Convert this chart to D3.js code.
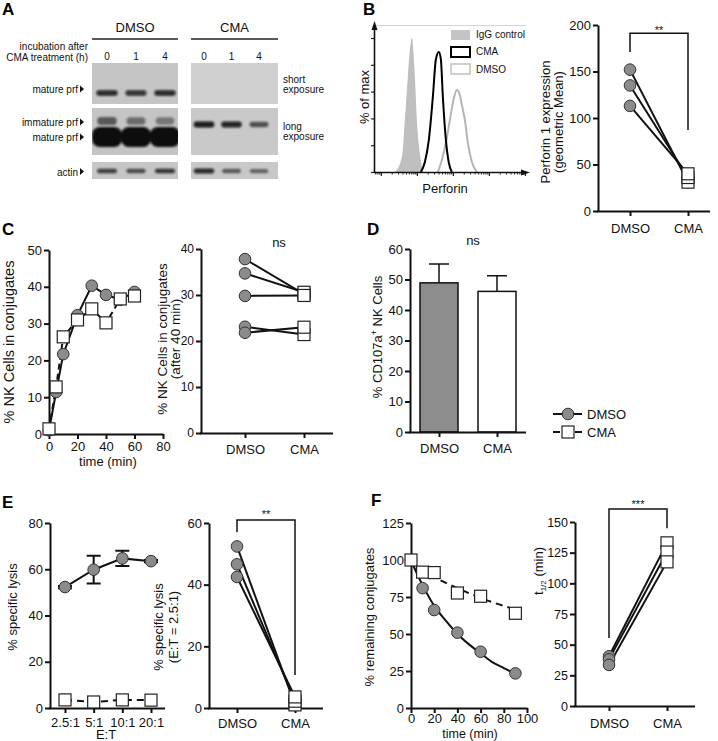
<!DOCTYPE html>
<html><head><meta charset="utf-8">
<script src="https://cdn.jsdelivr.net/npm/d3@7"></script>
<style>body{margin:0;background:#fff}svg{display:block}</style>
</head><body>
<svg id="c" width="718" height="741"></svg>
<script>
// ================= DATA =================
const groups = ["DMSO","CMA"];
// A: western blot band intensities (0..1) per lane (h after CMA treatment)
const blotLanes = ["0","1","4"];
const shortMatureDMSO = [0.85,0.8,0.85];
const shortMatureCMA  = [0,0,0];
const longImmatureDMSO = [0.55,0.45,0.4];
const longMatureDMSO  = [1,1,1];
const longImmatureCMA = [0.92,0.88,0.6];
const actinDMSO = [0.75,0.62,0.8];
const actinCMA  = [0.85,0.55,0.5];
// B: histogram (perforin intensity, % of max)
const histLegend = ["IgG control","CMA","DMSO"];
const iggX = [2.45,3.83,4.64,5.62,7.26,8.8,10,12.1,14.7];
const iggY = [0,11,39,71,100,71,39,14,0];
const cmaHX = [12.9,16.7,21.5,27.8,33.7,40.8,46.4,52.7,63.9,77.4,93.8];
const cmaHY = [0,7.5,24,56,84,89.6,84,56,24,6.7,0];
const dmsoHX = [38.3,49.4,63.9,82.5,106.6,129,156.4,177.8,215.4,261,337,464];
const dmsoHY = [0,9,21.6,38.8,55.2,61.2,57.5,50,38.8,21.6,7.5,0];
// B: perforin geometric mean
const prfDMSO = [152,135,113];
const prfCMA  = [31,36,40];
const prfTicks = [0,50,100,150,200];
// C: conjugates kinetics
const conjTime = [0,5,10,20,30,40,50,60];
const conjDMSO = [1,11.4,21.7,32.3,40.3,37.8,36.5,38.6];
const conjCMA  = [1.4,12.8,26.4,31,34,30.2,36.7,37.5];
const conjTimeTicks = [0,20,40,60,80];
const conjTicks = [0,10,20,30,40,50];
// C: after 40 min
const c40DMSO = [37.8,34.7,29.8,23.1,21.8];
const c40CMA  = [30.2,30.6,29.9,21.4,23.0];
const c40Ticks = [0,10,20,30,40];
// D: CD107a
const cdMean = [48.9,46.1];
const cdErr  = [6.2,5.1];
const cdTicks = [0,10,20,30,40,50,60];
// E: specific lysis
const etRatios = ["2.5:1","5:1","10:1","20:1"];
const lysisDMSO = [52.3,59.8,64.7,63.5];
const lysisDMSOerr = [0.5,6,3.3,0.5];
const lysisCMA = [3.5,2.6,3.5,3.4];
const lysisTicks = [0,20,40,60,80];
const lysis25DMSO = [52.4,46.6,42.5];
const lysis25CMA  = [1,2.2,3.6];
const lysis25Ticks = [0,20,40,60];
// F: remaining conjugates
const detachTime = [0,10,20,40,60,90];
const remainDMSO = [100,81,66.2,50.9,38,23.4];
const remainCMA  = [100,91.8,91.5,77.7,75.5,64];
const fitTime = [0,5,10,20,30,40,50,60,70,80,90];
const fitDMSO = [100,91,83,69,59,50,43,37,31,27,23];
const fitCMA  = [100,96.5,93.5,88.5,84.5,81,77.5,74.5,71.5,69,66.5];
const detachTimeTicks = [0,20,40,60,80,100];
const remainTicks = [0,25,50,75,100,125];
const halfDMSO = [40.5,38,33.5];
const halfCMA  = [133,125.5,117.5];
const halfTicks = [0,25,50,75,100,125,150];

// ================= HELPERS =================
const svg = d3.select("#c");
const F = "'Liberation Sans', Arial, Helvetica, sans-serif";
const INK = "#111";
const GRAY = "#8b8b8b";

function label(x,y,s,size=13,anchor="start",weight="normal",fill=INK){
  return svg.append("text").attr("x",x).attr("y",y).attr("font-family",F).attr("font-size",size)
    .attr("text-anchor",anchor).attr("font-weight",weight).attr("fill",fill).text(s);
}
function vlabel(xb,yc,s,size=13){
  return svg.append("text").attr("transform",`translate(${xb},${yc}) rotate(-90)`).attr("text-anchor","middle")
    .attr("font-family",F).attr("font-size",size).attr("fill",INK).text(s);
}
function styleAxis(g,size=13){
  g.select(".domain").attr("stroke",INK).attr("stroke-width",2);
  g.selectAll(".tick line").attr("stroke",INK).attr("stroke-width",2);
  g.selectAll(".tick text").attr("font-family",F).attr("font-size",size).attr("fill",INK);
}
function yAxis(y,x,ticks,size=13){
  const g = svg.append("g").attr("transform",`translate(${x},0)`)
    .call(d3.axisLeft(y).tickValues(ticks).tickSize(5).tickSizeOuter(0).tickPadding(2));
  styleAxis(g,size); return g;
}
function xAxis(x,yPos,ticks,pad,keepDomain){
  const a = d3.axisBottom(x).tickSize(5).tickSizeOuter(0).tickPadding(pad);
  if(ticks) a.tickValues(ticks);
  const g = svg.append("g").attr("transform",`translate(0,${yPos})`).call(a);
  styleAxis(g); if(!keepDomain) g.select(".domain").remove(); return g;
}
function baseLine(x1,x2,y){
  svg.append("line").attr("x1",x1).attr("x2",x2).attr("y1",y+0.5).attr("y2",y+0.5)
    .attr("stroke",INK).attr("stroke-width",2);
}
function circles(data,cx,cy,r=5.8){
  svg.append("g").selectAll("circle").data(data).join("circle")
    .attr("cx",cx).attr("cy",cy).attr("r",r).attr("fill",GRAY).attr("stroke","#333").attr("stroke-width",1);
}
function squares(data,cx,cy,s=12){
  svg.append("g").selectAll("rect").data(data).join("rect")
    .attr("x",(d,i)=>cx(d,i)-s/2).attr("y",(d,i)=>cy(d,i)-s/2).attr("width",s).attr("height",s)
    .attr("fill","#fff").attr("stroke","#222").attr("stroke-width",1.2);
}
function bracket(x,y,vL,vTop,vR,stars,starY){
  const xa=x("DMSO"), xb=x("CMA");
  svg.append("path").attr("d",`M${xa},${y(vL)}V${y(vTop)}H${xb}V${y(vR)}`)
    .attr("fill","none").attr("stroke",INK).attr("stroke-width",1.5);
  label((xa+xb)/2,starY,stars,11,"middle");
}
function paired(o){
  const y = d3.scaleLinear().domain([0,o.max]).range([o.yBot,o.yTop]);
  const x = d3.scalePoint().domain(groups).range(o.cx);
  yAxis(y,o.ax,o.ticks,o.tsize||13);
  baseLine(o.ax-1,o.x1,o.yBot);
  xAxis(x,o.yBot,null,o.pad,false);
  svg.append("g").selectAll("line").data(o.dmso).join("line")
    .attr("x1",x("DMSO")).attr("y1",d=>y(d)).attr("x2",x("CMA")).attr("y2",(d,i)=>y(o.cma[i]))
    .attr("stroke",INK).attr("stroke-width",2);
  circles(o.dmso,()=>x("DMSO"),d=>y(d));
  squares(o.cma,()=>x("CMA"),d=>y(d));
  return {x,y};
}

// ================= PANEL LETTERS =================
[["A",2,15],["B",363,15],["C",2,235],["D",367,235],["E",2,508],["F",371,506]]
  .forEach(([s,x,y])=>label(x,y,s,17,"start","bold","#000"));

// ================= PANEL A: blot =================
const defs = svg.append("defs");
defs.append("filter").attr("id","blur").attr("x","-30%").attr("y","-60%").attr("width","160%").attr("height","220%")
  .append("feGaussianBlur").attr("stdDeviation",1.1);
const blotBox = {DMSO:[92,178], CMA:[191,278]};
const laneX = {
  DMSO: d3.scalePoint().domain(blotLanes).range([107,165]),
  CMA:  d3.scalePoint().domain(blotLanes).range([204,259])
};
const blotRows = [{y0:63,y1:104,bg:{DMSO:"#c5c5c5",CMA:"#d0d0d0"}},
                  {y0:108,y1:155,bg:{DMSO:"#c4c4c4",CMA:"#c9c9c9"}},
                  {y0:162,y1:179,bg:{DMSO:"#c6c6c6",CMA:"#c8c8c8"}}];
blotRows.forEach((r,ri)=>groups.forEach(g=>{
  const [x0,x1]=blotBox[g];
  defs.append("clipPath").attr("id",`cp${ri}${g}`).append("rect").attr("x",x0).attr("y",r.y0).attr("width",x1-x0).attr("height",r.y1-r.y0);
  svg.append("rect").attr("x",x0).attr("y",r.y0).attr("width",x1-x0).attr("height",r.y1-r.y0).attr("fill",r.bg[g]);
}));
const bandSpecs = [
  {g:"DMSO",row:0,cy:93,w:22,h:6,vals:shortMatureDMSO},
  {g:"CMA",row:0,cy:93,w:22,h:6,vals:shortMatureCMA},
  {g:"DMSO",row:1,cy:121,w:22,h:9,vals:longImmatureDMSO},
  {g:"DMSO",row:1,cy:137,w:30,h:20,vals:longMatureDMSO},
  {g:"CMA",row:1,cy:124.5,w:21,h:6,vals:longImmatureCMA},
  {g:"DMSO",row:2,cy:171,w:21,h:5,vals:actinDMSO},
  {g:"CMA",row:2,cy:171,w:21,h:5,vals:actinCMA}
];
bandSpecs.forEach(b=>{
  svg.append("g").attr("clip-path",`url(#cp${b.row}${b.g})`).append("g").attr("filter","url(#blur)")
    .selectAll("rect").data(b.vals).join("rect")
    .attr("x",(v,i)=>laneX[b.g](blotLanes[i])-b.w*(0.75+0.25*v)/2)
    .attr("width",v=>b.w*(0.75+0.25*v))
    .attr("y",v=>b.cy-b.h*(0.7+0.3*v)/2).attr("height",v=>b.h*(0.7+0.3*v))
    .attr("rx",b.h/2.5).attr("fill","#0a0a0a").attr("fill-opacity",v=>v);
});
groups.forEach(g=>{
  const [x0,x1]=blotBox[g];
  label((x0+x1)/2,32,g,13,"middle");
  svg.append("line").attr("x1",x0).attr("x2",x1).attr("y1",39).attr("y2",39).attr("stroke","#222").attr("stroke-width",1.5);
  blotLanes.forEach(l=>label(laneX[g](l),59.5,l,10,"middle"));
});
label(88,49.5,"incubation after",10,"end");
label(88,60.5,"CMA treatment (h)",10,"end");
[["mature prf",93],["immature prf",126],["mature prf",141],["actin",175.5]].forEach(([s,y])=>{
  label(78,y,s,10,"end");
  svg.append("path").attr("d",`M80,${y-7.5}L84,${y-4}L80,${y-0.5}Z`).attr("fill","#111");
});
label(283,82.5,"short",10); label(283,92.5,"exposure",10);
label(283,129.5,"long",10); label(283,140,"exposure",10);

// ================= PANEL B: histogram =================
{
  const x = d3.scaleLog().domain([Math.pow(10,-0.19),Math.pow(10,4.03)]).range([374,526]);
  const y = d3.scaleLinear().domain([0,100]).range([172,38]);
  svg.append("line").attr("x1",374).attr("x2",526).attr("y1",25.5).attr("y2",25.5).attr("stroke","#d4d4d4").attr("stroke-width",1);
  const area = d3.area().x(d=>x(d[0])).y0(y(0)).y1(d=>y(d[1])).curve(d3.curveMonotoneX);
  const line = d3.line().x(d=>x(d[0])).y(d=>y(d[1])).curve(d3.curveMonotoneX);
  svg.append("path").datum(d3.zip(iggX,iggY)).attr("d",area).attr("fill","#bfbfbf");
  svg.append("path").datum(d3.zip(dmsoHX,dmsoHY)).attr("d",line).attr("fill","none").attr("stroke","#b5b5b5").attr("stroke-width",2);
  svg.append("path").datum(d3.zip(cmaHX,cmaHY)).attr("d",line).attr("fill","none").attr("stroke","#000").attr("stroke-width",2);
  const gm = svg.append("g").attr("transform","translate(0,172)")
    .call(d3.axisBottom(x).tickValues(x.ticks()).tickSize(2.5).tickFormat(""));
  gm.select(".domain").remove(); gm.selectAll("line").attr("stroke","#222").attr("stroke-width",1);
  const gM = svg.append("g").attr("transform","translate(0,172)")
    .call(d3.axisBottom(x).tickValues([1,10,100,1000,10000]).tickSize(4).tickFormat(""));
  gM.select(".domain").remove(); gM.selectAll("line").attr("stroke","#222").attr("stroke-width",1.2);
  const gy = svg.append("g").attr("transform","translate(374,0)")
    .call(d3.axisLeft(y).tickValues([0,20,40,60,80,100]).tickSize(3).tickFormat(""));
  gy.select(".domain").remove(); gy.selectAll("line").attr("stroke","#222").attr("stroke-width",1.2);
  svg.append("line").attr("x1",374.5).attr("x2",374.5).attr("y1",28).attr("y2",173).attr("stroke","#111").attr("stroke-width",1.6);
  svg.append("line").attr("x1",374).attr("x2",523).attr("y1",172.5).attr("y2",172.5).attr("stroke","#111").attr("stroke-width",1.6);
  svg.append("path").attr("d","M374.5,21L371.5,30L377.5,30Z").attr("fill","#111");
  svg.append("path").attr("d","M530,172.5L521,169.5L521,175.5Z").attr("fill","#111");
  vlabel(369,97,"% of max",13);
  label(445,193,"Perforin",13,"middle");
  const lg = [{fill:"#c4c4c4",stroke:"none",sw:0,y:30},{fill:"none",stroke:"#000",sw:2,y:47},{fill:"none",stroke:"#c0c0c0",sw:1.5,y:64}];
  histLegend.forEach((s,i)=>{
    svg.append("rect").attr("x",451).attr("y",lg[i].y).attr("width",19).attr("height",10)
      .attr("fill",lg[i].fill).attr("stroke",lg[i].stroke).attr("stroke-width",lg[i].sw);
    label(476,[37.5,55,72.5][i],s,10);
  });
}
// ================= PANEL B: paired =================
{
  const p = paired({ax:598,x1:710,yTop:25,yBot:211,max:200,ticks:prfTicks,cx:[630,688],dmso:prfDMSO,cma:prfCMA,pad:8});
  bracket(p.x,p.y,171,191,87,"**",34);
  vlabel(550,122,"Perforin 1 expression",13);
  vlabel(563,122,"(geometric Mean)",13);
}
// ================= PANEL C: kinetics =================
{
  const x = d3.scaleLinear().domain([0,80]).range([49,163]);
  const y = d3.scaleLinear().domain([0,50]).range([434,250]);
  yAxis(y,49,conjTicks);
  xAxis(x,434,conjTimeTicks,3,true);
  const ln = d3.line().x((d,i)=>x(conjTime[i])).y(d=>y(d));
  svg.append("path").datum(conjDMSO).attr("d",ln).attr("fill","none").attr("stroke",INK).attr("stroke-width",2);
  svg.append("path").datum(conjCMA).attr("d",ln).attr("fill","none").attr("stroke",INK).attr("stroke-width",2).attr("stroke-dasharray","6,4");
  circles(conjDMSO,(d,i)=>x(conjTime[i]),d=>y(d));
  squares(conjCMA,(d,i)=>x(conjTime[i]),d=>y(d));
  label(108,466,"time (min)",13,"middle");
  vlabel(14,342,"% NK Cells in conjugates",14.5);
}
{
  paired({ax:201,x1:333,yTop:249,yBot:433,max:40,ticks:c40Ticks,cx:[245,304],dmso:c40DMSO,cma:c40CMA,pad:7,tsize:12});
  label(279,247,"ns",13,"middle");
  vlabel(167,339,"% NK Cells in conjugates",13.5);
  vlabel(180,339,"(after 40 min)",13.5);
}
// ================= PANEL D =================
{
  const y = d3.scaleLinear().domain([0,60]).range([432,249]);
  const x = d3.scalePoint().domain(groups).range([439,497]);
  const bw = 38;
  svg.append("g").selectAll("path").data(cdMean).join("path")
    .attr("d",(d,i)=>`M${x(groups[i])},${y(d)}V${y(d+cdErr[i])}M${x(groups[i])-10},${y(d+cdErr[i])}H${x(groups[i])+10}`)
    .attr("stroke",INK).attr("stroke-width",1.5).attr("fill","none");
  svg.append("g").selectAll("rect").data(cdMean).join("rect")
    .attr("x",(d,i)=>x(groups[i])-bw/2).attr("width",bw).attr("y",d=>y(d)).attr("height",d=>y(0)-y(d))
    .attr("fill",(d,i)=>i===0?"#8c8c8c":"#fff").attr("stroke",INK).attr("stroke-width",1.5);
  yAxis(y,410,cdTicks);
  baseLine(409,526,432);
  xAxis(x,432,null,7,false);
  label(473,245,"ns",13,"middle");
  const t = svg.append("text").attr("transform","translate(382,337) rotate(-90)").attr("text-anchor","middle")
    .attr("font-family",F).attr("font-size",13).attr("fill",INK);
  t.append("tspan").text("% CD107a");
  t.append("tspan").attr("font-size",9).attr("dy",-5).text("+");
  t.append("tspan").attr("dy",5).text(" NK Cells");
  svg.append("line").attr("x1",553).attr("x2",582).attr("y1",414).attr("y2",414).attr("stroke",INK).attr("stroke-width",2);
  svg.append("circle").attr("cx",568).attr("cy",414).attr("r",5.8).attr("fill",GRAY).attr("stroke","#333");
  svg.append("line").attr("x1",553).attr("x2",582).attr("y1",432).attr("y2",432).attr("stroke",INK).attr("stroke-width",2).attr("stroke-dasharray","7,15");
  svg.append("rect").attr("x",562).attr("y",426).attr("width",12).attr("height",12).attr("fill","#fff").attr("stroke","#222").attr("stroke-width",1.2);
  label(587,418.5,"DMSO",13); label(587,436.5,"CMA",13);
}
// ================= PANEL E =================
{
  const x = d3.scalePoint().domain(etRatios).range([65,151]);
  const y = d3.scaleLinear().domain([0,80]).range([708,523]);
  yAxis(y,50,lysisTicks);
  baseLine(49,165,708);
  xAxis(x,708,null,5,false);
  const ln = d3.line().x((d,i)=>x(etRatios[i])).y(d=>y(d));
  svg.append("path").datum(lysisCMA).attr("d",ln).attr("fill","none").attr("stroke",INK).attr("stroke-width",2).attr("stroke-dasharray","7,5");
  svg.append("path").datum(lysisDMSO).attr("d",ln).attr("fill","none").attr("stroke",INK).attr("stroke-width",2);
  svg.append("g").selectAll("path").data(lysisDMSO).join("path")
    .attr("d",(d,i)=>{const cx=x(etRatios[i]);return `M${cx},${y(d-lysisDMSOerr[i])}V${y(d+lysisDMSOerr[i])}M${cx-7},${y(d+lysisDMSOerr[i])}H${cx+7}M${cx-7},${y(d-lysisDMSOerr[i])}H${cx+7}`;})
    .attr("stroke",INK).attr("stroke-width",2).attr("fill","none");
  circles(lysisDMSO,(d,i)=>x(etRatios[i]),d=>y(d));
  squares(lysisCMA,(d,i)=>x(etRatios[i]),d=>y(d));
  label(106,738.5,"E:T",13,"middle");
  vlabel(17,607,"% specific lysis",13);
}
{
  const p = paired({ax:209,x1:323,yTop:523,yBot:708,max:60,ticks:lysis25Ticks,cx:[237,295],dmso:lysis25DMSO,cma:lysis25CMA,pad:6});
  bracket(p.x,p.y,57,61,10.7,"**",518);
  vlabel(163,627,"% specific lysis",13);
  vlabel(178,627,"(E:T = 2.5:1)",13);
}
// ================= PANEL F =================
{
  const x = d3.scaleLinear().domain([0,100]).range([411,527]);
  const y = d3.scaleLinear().domain([0,125]).range([708,523]);
  yAxis(y,411,remainTicks);
  xAxis(x,708,detachTimeTicks,1,true);
  const ln = d3.line().x((d,i)=>x(fitTime[i])).y(d=>y(d)).curve(d3.curveMonotoneX);
  svg.append("path").datum(fitCMA).attr("d",ln).attr("fill","none").attr("stroke",INK).attr("stroke-width",2).attr("stroke-dasharray","7,5");
  svg.append("path").datum(fitDMSO).attr("d",ln).attr("fill","none").attr("stroke",INK).attr("stroke-width",2);
  circles(remainDMSO,(d,i)=>x(detachTime[i]),d=>y(d));
  squares(remainCMA,(d,i)=>x(detachTime[i]),d=>y(d));
  label(470,738,"time (min)",12.5,"middle");
  vlabel(374,617,"% remaining conjugates",13);
}
{
  const p = paired({ax:575,x1:695,yTop:522,yBot:706,max:150,ticks:halfTicks,cx:[609,667],dmso:halfDMSO,cma:halfCMA,pad:8,tsize:12.5});
  bracket(p.x,p.y,55.4,160.5,145,"***",508);
  const t = svg.append("text").attr("transform","translate(543,571) rotate(-90)").attr("text-anchor","middle")
    .attr("font-family",F).attr("font-size",13).attr("fill",INK);
  t.append("tspan").text("t");
  t.append("tspan").attr("font-size",8).attr("dy",3).text("1/2");
  t.append("tspan").attr("dy",-3).text(" (min)");
}
</script>
</body></html>
